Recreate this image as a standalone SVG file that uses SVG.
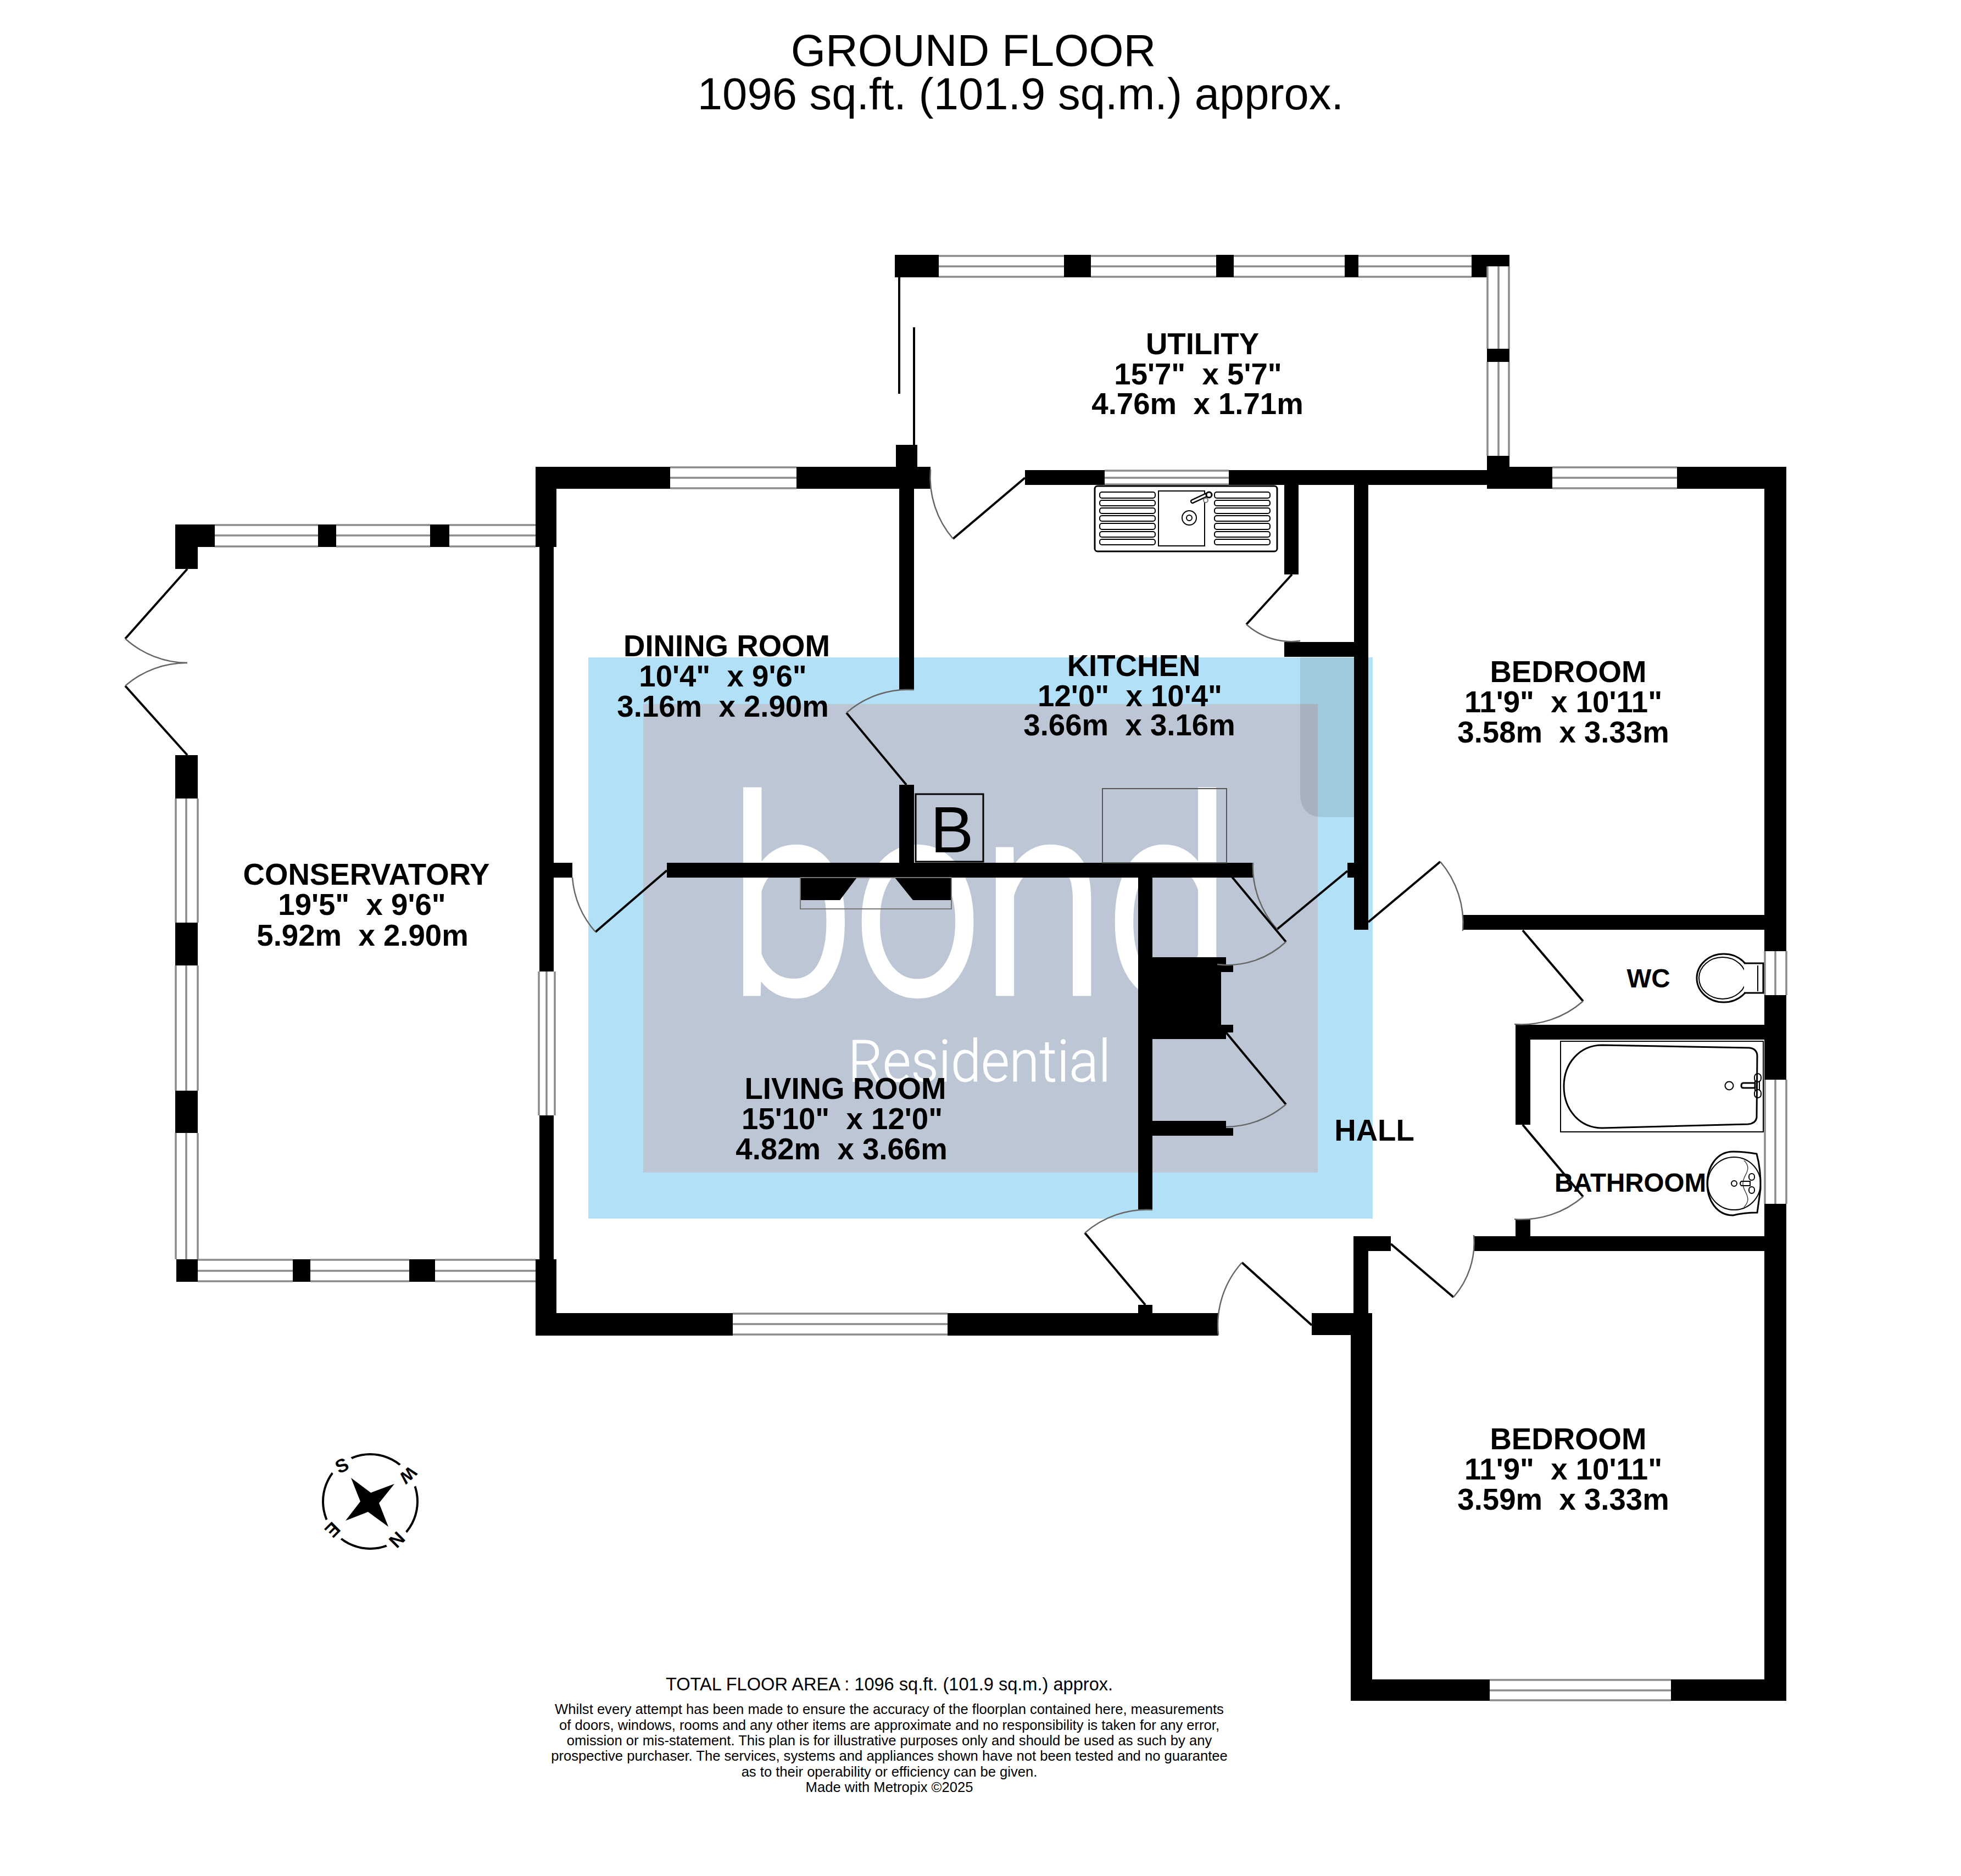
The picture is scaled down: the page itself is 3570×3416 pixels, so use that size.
<svg xmlns="http://www.w3.org/2000/svg" width="3570" height="3416" viewBox="0 0 3570 3416">
<style>
text{font-family:"Liberation Sans",Arial,sans-serif;text-anchor:middle;white-space:pre;fill:#000}
.t{font-size:81.4px}
.l{font-size:54.6px;font-weight:700}
.s{font-size:47.5px;font-weight:700}
.f1{font-size:32.6px}
.f2{font-size:25.6px}
.win path{fill:none;stroke:#8c8c8c;stroke-width:3.5}
.win rect{fill:#fff}
.walls rect,.walls polygon{fill:#000}
.leaf{stroke:#000;stroke-width:4;fill:none}
.arc{stroke:#666;stroke-width:2.5;fill:none}
.fx{fill:#fff;stroke:#000;stroke-width:3}
.fxt{fill:none;stroke:#000;stroke-width:2}
.logo{font-family:Roboto,"Liberation Sans",sans-serif;font-weight:300;fill:#fff;stroke:#fff}
</style>
<rect width="3570" height="3416" fill="#fff"/>
<g id="watermark">
<rect x="1071" y="1197" width="1428" height="1022" fill="#b2e0f6"/>
<rect x="1171" y="1282" width="1228" height="853" fill="#bcc6d4"/>
<path d="M2367,1197H2465V1488H2410Q2367,1488 2367,1445Z" fill="#000" fill-opacity=".1"/>
<text class="logo" x="1784" y="1808" font-size="492" textLength="915" lengthAdjust="spacingAndGlyphs" stroke-width="11">bond</text>
<text class="logo" x="1783" y="1969" font-size="105" textLength="478" lengthAdjust="spacingAndGlyphs" stroke-width="1">Residential</text>
</g>
<g id="walls" class="walls">
<rect x="1629" y="464" width="80" height="41"/>
<rect x="1937" y="464" width="49" height="41"/>
<rect x="2214" y="464" width="32" height="41"/>
<rect x="2448" y="464" width="25" height="41"/>
<rect x="2679" y="464" width="69" height="41"/>
<rect x="2707" y="635" width="41" height="24"/>
<rect x="2707" y="830" width="41" height="60"/>
<rect x="1866" y="856" width="145" height="27"/>
<rect x="2237" y="856" width="470" height="27"/>
<rect x="975" y="850" width="245" height="40"/>
<rect x="1450" y="850" width="244" height="40"/>
<rect x="2748" y="850" width="78" height="40"/>
<rect x="3053" y="850" width="199" height="40"/>
<rect x="1631" y="810" width="39" height="80"/>
<rect x="1637" y="890" width="27" height="366"/>
<rect x="2338" y="883" width="26" height="163"/>
<rect x="2338" y="1169" width="127" height="27"/>
<rect x="2465" y="883" width="26" height="810"/>
<rect x="2453" y="1571" width="12" height="27"/>
<rect x="975" y="850" width="38" height="146"/>
<rect x="982" y="996" width="26" height="773"/>
<rect x="982" y="2031" width="26" height="326"/>
<rect x="975" y="2293" width="38" height="139"/>
<rect x="1008" y="1571" width="34" height="27"/>
<rect x="1637" y="1429" width="27" height="142"/>
<rect x="1214" y="1571" width="1067" height="27"/>
<polygon points="1457,1598 1560,1598 1529,1639 1457,1639"/>
<polygon points="1629,1598 1662,1639 1732,1639 1732,1598"/>
<rect x="2072" y="1598" width="26" height="605"/>
<rect x="2098" y="1743" width="125" height="149"/>
<rect x="2223" y="1743" width="9" height="27"/>
<rect x="2232" y="1756" width="13" height="14"/>
<rect x="2223" y="1866" width="9" height="26"/>
<rect x="2232" y="1866" width="13" height="14"/>
<rect x="2098" y="2041" width="134" height="27"/>
<rect x="2232" y="2054" width="13" height="14"/>
<rect x="975" y="2391" width="359" height="41"/>
<rect x="1725" y="2391" width="493" height="41"/>
<rect x="2072" y="2376" width="26" height="15"/>
<rect x="2388" y="2391" width="110" height="40"/>
<rect x="2464" y="2251" width="27" height="140"/>
<rect x="2464" y="2251" width="68" height="27"/>
<rect x="2459" y="2411" width="39" height="686"/>
<rect x="2459" y="3058" width="253" height="39"/>
<rect x="3042" y="3058" width="210" height="39"/>
<rect x="3212" y="850" width="40" height="882"/>
<rect x="3212" y="1812" width="40" height="154"/>
<rect x="3212" y="2192" width="40" height="905"/>
<rect x="2663" y="1666" width="549" height="27"/>
<rect x="2759" y="1866" width="453" height="27"/>
<rect x="2759" y="1866" width="27" height="182"/>
<rect x="2683" y="2251" width="529" height="27"/>
<rect x="2759" y="2221" width="27" height="57"/>
<rect x="319" y="955" width="72" height="41"/>
<rect x="319" y="955" width="41" height="81"/>
<rect x="579" y="955" width="33" height="41"/>
<rect x="783" y="955" width="35" height="41"/>
<rect x="319" y="1375" width="41" height="79"/>
<rect x="319" y="1680" width="41" height="78"/>
<rect x="319" y="1986" width="41" height="77"/>
<rect x="321" y="2293" width="39" height="41"/>
<rect x="533" y="2293" width="32" height="41"/>
<rect x="745" y="2293" width="47" height="41"/>
</g>
<g id="windows" class="win">
<g><rect x="1709" y="465" width="228" height="40"/><path d="M1709,466H1937M1709,485H1937M1709,504H1937"/></g>
<g><rect x="1986" y="465" width="228" height="40"/><path d="M1986,466H2214M1986,485H2214M1986,504H2214"/></g>
<g><rect x="2246" y="465" width="202" height="40"/><path d="M2246,466H2448M2246,485H2448M2246,504H2448"/></g>
<g><rect x="2473" y="465" width="206" height="40"/><path d="M2473,466H2679M2473,485H2679M2473,504H2679"/></g>
<g><rect x="2707" y="485" width="41" height="150"/><path d="M2708,485V635M2728,485V635M2747,485V635"/></g>
<g><rect x="2707" y="659" width="41" height="171"/><path d="M2708,659V830M2728,659V830M2747,659V830"/></g>
<g><rect x="2011" y="856" width="226" height="27"/><path d="M2011,857H2237M2011,870H2237M2011,882H2237"/></g>
<g><rect x="1220" y="850" width="230" height="40"/><path d="M1220,851H1450M1220,870H1450M1220,889H1450"/></g>
<g><rect x="2826" y="850" width="227" height="40"/><path d="M2826,851H3053M2826,870H3053M2826,889H3053"/></g>
<g><rect x="391" y="955" width="188" height="41"/><path d="M391,956H579M391,975H579M391,995H579"/></g>
<g><rect x="612" y="955" width="171" height="41"/><path d="M612,956H783M612,975H783M612,995H783"/></g>
<g><rect x="818" y="955" width="157" height="41"/><path d="M818,956H975M818,975H975M818,995H975"/></g>
<g><rect x="320" y="1454" width="40" height="226"/><path d="M320,1454V1680M339,1454V1680M360,1454V1680"/></g>
<g><rect x="320" y="1758" width="40" height="228"/><path d="M320,1758V1986M339,1758V1986M360,1758V1986"/></g>
<g><rect x="320" y="2063" width="40" height="230"/><path d="M320,2063V2293M339,2063V2293M360,2063V2293"/></g>
<g><rect x="360" y="2293" width="173" height="41"/><path d="M360,2294H533M360,2314H533M360,2333H533"/></g>
<g><rect x="565" y="2293" width="180" height="41"/><path d="M565,2294H745M565,2314H745M565,2333H745"/></g>
<g><rect x="792" y="2293" width="183" height="41"/><path d="M792,2294H975M792,2314H975M792,2333H975"/></g>
<g><rect x="980" y="1769" width="31" height="262"/><path d="M981,1769V2031M995,1769V2031M1010,1769V2031"/></g>
<g><rect x="1334" y="2391" width="391" height="40"/><path d="M1334,2392H1725M1334,2411H1725M1334,2430H1725"/></g>
<g><rect x="2712" y="3058" width="330" height="39"/><path d="M2712,3059H3042M2712,3078H3042M2712,3096H3042"/></g>
<g><rect x="3212" y="1732" width="41" height="80"/><path d="M3213,1732V1812M3232,1732V1812M3252,1732V1812"/></g>
<g><rect x="3212" y="1966" width="41" height="226"/><path d="M3213,1966V2192M3232,1966V2192M3252,1966V2192"/></g>
</g>
<g id="doors">
<path class="leaf" d="M1637,505V717M1664,596V810"/>
<path class="leaf" d="M1866,870L1735,981"/><path class="arc" d="M1735,981A172,172 0 0 1 1694,855"/>
<path class="leaf" d="M2352,1046L2269,1137"/><path class="arc" d="M2269,1137A122,122 0 0 0 2367,1167"/>
<path class="leaf" d="M1650,1429L1541,1298"/><path class="arc" d="M1541,1298A170,170 0 0 1 1664,1256"/>
<path class="leaf" d="M1214,1585L1084,1697"/><path class="arc" d="M1084,1697A172,172 0 0 1 1042,1598"/>
<path class="leaf" d="M2453,1586L2325,1692"/><path class="arc" d="M2325,1692A170,170 0 0 1 2281,1571"/>
<path class="leaf" d="M2243,1597L2341,1715"/><path class="arc" d="M2341,1715A155,155 0 0 1 2216,1756"/>
<path class="leaf" d="M2232,1880L2341,2011"/><path class="arc" d="M2341,2011A172,172 0 0 1 2232,2052"/>
<path class="leaf" d="M2085,2376L1975,2245"/><path class="arc" d="M1975,2245A172,172 0 0 1 2098,2203"/>
<path class="leaf" d="M2388,2413L2261,2299"/><path class="arc" d="M2261,2299A170,170 0 0 0 2218,2431"/>
<path class="leaf" d="M2491,1679L2622,1569"/><path class="arc" d="M2622,1569A172,172 0 0 1 2663,1695"/>
<path class="leaf" d="M2772,1694L2882,1823"/><path class="arc" d="M2882,1823A170,170 0 0 1 2757,1865"/>
<path class="leaf" d="M2772,2048L2882,2179"/><path class="arc" d="M2882,2179A172,172 0 0 1 2757,2220"/>
<path class="leaf" d="M2532,2265L2646,2362"/><path class="arc" d="M2646,2362A150,150 0 0 0 2683,2249"/>
<path class="leaf" d="M341,1036L228,1163"/><path class="arc" d="M228,1163A171,171 0 0 0 341,1207"/>
<path class="leaf" d="M341,1375L228,1249"/><path class="arc" d="M228,1249A169,169 0 0 1 341,1207"/>
</g>
<g id="fixtures">
<g id="sink">
<rect class="fx" x="1993" y="885" width="332" height="119" rx="5"/>
<rect class="fxt" x="2002" y="896" width="101" height="11" rx="4"/><rect class="fxt" x="2002" y="911" width="101" height="10" rx="4"/><rect class="fxt" x="2002" y="925" width="101" height="10" rx="4"/><rect class="fxt" x="2002" y="939" width="101" height="10" rx="4"/><rect class="fxt" x="2002" y="953" width="101" height="11" rx="4"/><rect class="fxt" x="2002" y="968" width="101" height="10" rx="4"/><rect class="fxt" x="2002" y="982" width="101" height="10" rx="4"/>
<rect class="fxt" x="2211" y="896" width="101" height="11" rx="4"/><rect class="fxt" x="2211" y="911" width="101" height="10" rx="4"/><rect class="fxt" x="2211" y="925" width="101" height="10" rx="4"/><rect class="fxt" x="2211" y="939" width="101" height="10" rx="4"/><rect class="fxt" x="2211" y="953" width="101" height="11" rx="4"/><rect class="fxt" x="2211" y="968" width="101" height="10" rx="4"/><rect class="fxt" x="2211" y="982" width="101" height="10" rx="4"/>
<rect class="fxt" x="2109" y="894" width="84" height="100"/>
<circle class="fxt" cx="2165" cy="943" r="13"/><circle class="fxt" cx="2165" cy="943" r="5" stroke-width="3"/>
<path d="M2171,913L2199,900" stroke="#000" stroke-width="8" stroke-linecap="round"/><path d="M2171,913L2199,900" stroke="#fff" stroke-width="3.5" stroke-linecap="round"/>
<circle class="fx" cx="2201" cy="901" r="5" stroke-width="2"/><circle cx="2195" cy="911" r="4" fill="#fff" stroke="#777" stroke-width="2"/>
</g>
<g id="wc">
<ellipse class="fx" cx="3138" cy="1781" rx="49" ry="44"/><ellipse class="fxt" cx="3136" cy="1781" rx="43" ry="38"/>
<path class="fx" d="M3175,1754H3210V1808H3175" stroke-width="2"/>
<path class="fxt" d="M3200,1758V1805"/>
</g>
<g id="bath">
<rect class="fxt" x="2841" y="1896" width="369" height="165"/>
<path class="fx" d="M2917,1903L3185,1908Q3199,1910 3199,1923L3198,2035Q3196,2046 3182,2047L2917,2054C2875,2054 2847,2020 2847,1978C2847,1937 2875,1903 2917,1903Z"/>
<circle class="fxt" cx="3148" cy="1977" r="7.5"/>
<path class="fx" stroke-width="2" d="M3195,1972H3174Q3170,1972 3170,1977Q3170,1981 3174,1981H3195Z"/>
<path class="fxt" d="M3195,1968V1986M3203,1968V1986"/>
<rect class="fxt" x="3194" y="1955" width="12" height="15" rx="6"/><rect class="fxt" x="3194" y="1984" width="12" height="15" rx="6"/>
</g>
<g id="basin">
<path class="fx" d="M3155,2097Q3175,2097 3198,2101Q3206,2130 3205,2165L3199,2208Q3175,2208 3155,2213C3125,2213 3108,2185 3108,2155C3108,2125 3125,2097 3155,2097Z"/>
<circle class="fxt" cx="3157" cy="2155" r="48"/>
<path d="M3175,2113C3192,2130 3172,2140 3173,2155C3172,2170 3192,2180 3175,2198" fill="none" stroke="#444" stroke-width="1.5"/>
<circle class="fxt" cx="3157" cy="2155" r="5"/>
<path class="fxt" d="M3186,2151H3170Q3166,2155 3170,2159H3186Z"/>
<rect class="fxt" x="3184" y="2137" width="10" height="12" rx="5"/><rect class="fxt" x="3184" y="2161" width="10" height="12" rx="5"/>
</g>
<g id="boiler">
<rect x="1667" y="1446" width="123" height="123" fill="none" stroke="#000" stroke-width="3"/>
<text x="1733" y="1552" font-size="118">B</text>
</g>
<rect id="hob" x="2007" y="1436" width="226" height="135" fill="none" stroke="#555" stroke-width="2"/>
<rect id="hearth" x="1457" y="1598" width="275" height="57" fill="none" stroke="#777" stroke-width="2"/>
</g>
<g id="labels">
<text class="t" x="1772" y="120">GROUND FLOOR</text>
<text class="t" x="1858" y="199">1096 sq.ft. (101.9 sq.m.) approx.</text>
<g id="utility"><text class="l" x="2189" y="645">UTILITY</text><text class="l" x="2181" y="700">15'7"  x 5'7"</text><text class="l" x="2180" y="754">4.76m  x 1.71m</text></g>
<g id="kitchen"><text class="l" x="2064" y="1231">KITCHEN</text><text class="l" x="2057" y="1286">12'0"  x 10'4"</text><text class="l" x="2056" y="1339">3.66m  x 3.16m</text></g>
<g id="dining"><text class="l" x="1323" y="1195">DINING ROOM</text><text class="l" x="1316" y="1250">10'4"  x 9'6"</text><text class="l" x="1316" y="1305">3.16m  x 2.90m</text></g>
<g id="bed1"><text class="l" x="2855" y="1242">BEDROOM</text><text class="l" x="2846" y="1297">11'9"  x 10'11"</text><text class="l" x="2846" y="1352">3.58m  x 3.33m</text></g>
<g id="bed2"><text class="l" x="2855" y="2639">BEDROOM</text><text class="l" x="2846" y="2694">11'9"  x 10'11"</text><text class="l" x="2846" y="2749">3.59m  x 3.33m</text></g>
<g id="conservatory"><text class="l" x="667" y="1611">CONSERVATORY</text><text class="l" x="659" y="1666">19'5"  x 9'6"</text><text class="l" x="660" y="1722">5.92m  x 2.90m</text></g>
<g id="living"><text class="l" x="1539" y="2001">LIVING ROOM</text><text class="l" x="1533" y="2056">15'10"  x 12'0"</text><text class="l" x="1532" y="2111">4.82m  x 3.66m</text></g>
<text class="l" x="2502" y="2077">HALL</text>
<text class="s" x="3001" y="1798">WC</text>
<text class="s" x="2968" y="2170">BATHROOM</text>
</g>
<g id="compass">
<circle cx="674" cy="2734" r="86" fill="none" stroke="#000" stroke-width="4"/>
<circle cx="622" cy="2668" r="22" fill="#fff"/><circle cx="743" cy="2686" r="24" fill="#fff"/><circle cx="723" cy="2804" r="22" fill="#fff"/><circle cx="606" cy="2786" r="22" fill="#fff"/>
<polygon points="639,2691 675,2718 718,2702 690,2737 707,2780 670,2753 629,2769 656,2734"/>
<text font-size="34" font-weight="700" transform="translate(622,2668) rotate(-25)" dy=".36em">S</text>
<text font-size="31" font-weight="700" transform="translate(743,2686) rotate(138)" dy=".36em">W</text>
<text font-size="34" font-weight="700" transform="translate(723,2804) rotate(135)" dy=".36em">N</text>
<text font-size="34" font-weight="700" transform="translate(606,2786) rotate(135)" dy=".36em">E</text>
</g>
<g id="footer">
<text class="f1" x="1619" y="3078">TOTAL FLOOR AREA : 1096 sq.ft. (101.9 sq.m.) approx.</text>
<text class="f2" x="1619" y="3121">Whilst every attempt has been made to ensure the accuracy of the floorplan contained here, measurements</text>
<text class="f2" x="1619" y="3150">of doors, windows, rooms and any other items are approximate and no responsibility is taken for any error,</text>
<text class="f2" x="1619" y="3178">omission or mis-statement. This plan is for illustrative purposes only and should be used as such by any</text>
<text class="f2" x="1619" y="3206">prospective purchaser. The services, systems and appliances shown have not been tested and no guarantee</text>
<text class="f2" x="1619" y="3235">as to their operability or efficiency can be given.</text>
<text class="f2" x="1619" y="3263">Made with Metropix ©2025</text>
</g>
</svg>
